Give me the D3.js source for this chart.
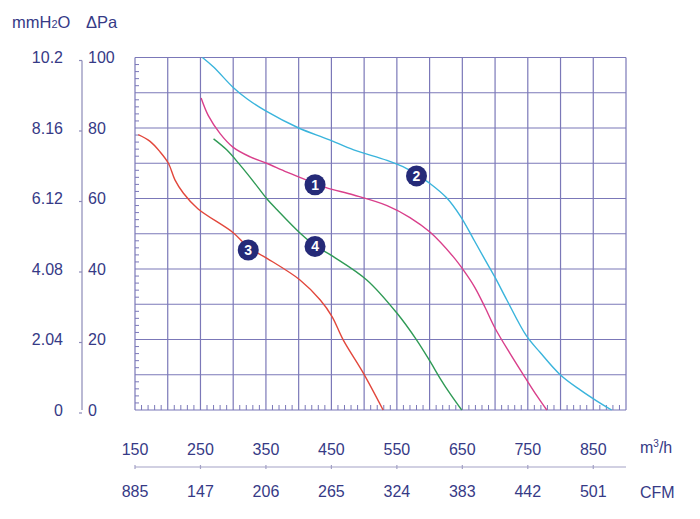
<!DOCTYPE html>
<html>
<head>
<meta charset="utf-8">
<script src="https://cdn.jsdelivr.net/npm/d3@7"></script>
<style>
  html, body { margin: 0; padding: 0; background: #ffffff; }
  svg { display: block; }
  text { font-family: "Liberation Sans", Arial, sans-serif; fill: #363a86; }
</style>
</head>
<body>
<svg id="chart" width="700" height="519"></svg>
<script>
// ---- data ----
const flowTicks = [150, 250, 350, 450, 550, 650, 750, 850];          // m3/h
const cfmLabels = ["885", "147", "206", "265", "324", "383", "442", "501"];
const paTicks = [0, 20, 40, 60, 80, 100];                            // Pa
const mmLabels = ["0", "2.04", "4.08", "6.12", "8.16", "10.2"];      // mmH2O

const curve1X = [251, 262, 280, 300, 326, 351, 382, 425, 443, 484, 535, 570, 601, 636, 652, 669, 685, 700, 723, 746, 764, 779];
const curve1Y = [88.5, 83.5, 78.4, 74.5, 71.8, 70.0, 67.5, 64.3, 63.0, 61.0, 58.0, 54.6, 50.4, 43.5, 39.6, 34.8, 29.0, 23.2, 16.0, 9.2, 4.0, 0];

const curve2X = [253, 270, 300, 321, 349, 400, 445, 484, 535, 565, 580, 601, 626, 647, 667, 685, 700, 718, 748, 769, 799, 830, 855, 878];
const curve2Y = [100, 97.3, 91.5, 88.3, 84.9, 80.0, 76.8, 73.8, 70.8, 68.5, 66.8, 64.2, 60.2, 55.0, 48.5, 42.5, 37.6, 31.2, 21.0, 16.3, 10.1, 5.7, 2.6, 0];

const curve3X = [155, 173, 188, 201, 211, 224, 246, 300, 323, 351, 402, 433, 451, 468, 499, 529];
const curve3Y = [78.1, 76.2, 73.3, 70.0, 65.3, 61.5, 57.1, 50.3, 46.2, 43.1, 36.9, 31.2, 26.5, 19.9, 10.4, 0];

const curve4X = [270, 290, 310, 331, 351, 367, 402, 425, 453, 504, 550, 580, 601, 616, 631, 649];
const curve4Y = [76.9, 73.8, 69.6, 64.8, 60.0, 56.8, 50.2, 46.6, 43.5, 36.9, 27.5, 19.9, 13.7, 9.0, 4.7, 0];

const badgeNames = ["1", "2", "3", "4"];
const badgeX = [425, 580, 323, 425];
const badgeY = [63.9, 66.4, 45.4, 46.4];

const curveColors = ["#d93f8b", "#3ab4dc", "#e2473c", "#2f9a55"];

// ---- layout ----
const svg = d3.select("#chart");
const x = d3.scaleLinear().domain([150, 900]).range([135, 626]);
const y = d3.scaleLinear().domain([0, 100]).range([410, 57.5]);
const gridColor = "#7b78b8";

// grid
const grid = svg.append("g");
grid.selectAll("line.v").data(d3.range(150, 901, 50)).join("line")
  .attr("x1", d => x(d)).attr("x2", d => x(d))
  .attr("y1", y(0)).attr("y2", y(100))
  .attr("stroke", gridColor).attr("stroke-width", 1.2);
grid.selectAll("line.h").data(d3.range(0, 101, 10)).join("line")
  .attr("y1", d => y(d)).attr("y2", d => y(d))
  .attr("x1", x(150)).attr("x2", x(900))
  .attr("stroke", gridColor).attr("stroke-width", 1.2);

// minor ticks inside plot (left edge every 2 Pa, bottom edge every 10 m3/h)
grid.selectAll("line.ml").data(d3.range(2, 100, 2).filter(d => d % 10 !== 0)).join("line")
  .attr("x1", x(150)).attr("x2", x(150) + 4)
  .attr("y1", d => y(d)).attr("y2", d => y(d))
  .attr("stroke", gridColor).attr("stroke-width", 1);
grid.selectAll("line.mb").data(d3.range(160, 900, 10).filter(d => d % 50 !== 0)).join("line")
  .attr("x1", d => x(d)).attr("x2", d => x(d))
  .attr("y1", y(0)).attr("y2", y(0) - 5)
  .attr("stroke", gridColor).attr("stroke-width", 1);

// curves
const line = d3.line().x(d => x(d[0])).y(d => y(d[1])).curve(d3.curveCatmullRom.alpha(0.5));
const curves = [[curve1X, curve1Y], [curve2X, curve2Y], [curve3X, curve3Y], [curve4X, curve4Y]];
curves.forEach((c, i) => {
  const pts = c[0].map((v, j) => [v, c[1][j]]);
  svg.append("path").datum(pts)
    .attr("d", line)
    .attr("fill", "none")
    .attr("stroke", curveColors[i])
    .attr("stroke-width", 1.4);
});

// badges
const badges = svg.append("g").selectAll("g").data(badgeNames).join("g")
  .attr("transform", (d, i) => `translate(${x(badgeX[i])},${y(badgeY[i])})`);
badges.append("circle").attr("r", 10.5).attr("fill", "#252a78");
badges.append("text").text(d => d)
  .attr("text-anchor", "middle").attr("dy", "0.36em")
  .style("fill", "#ffffff").style("font-size", "14px").style("font-weight", "bold");

// left double axis
const axisX = 82;
svg.append("line").attr("x1", axisX).attr("x2", axisX)
  .attr("y1", y(100) + 3).attr("y2", y(0))
  .attr("stroke", "#8c8ab8").attr("stroke-width", 1.2);
svg.append("g").selectAll("line").data(paTicks).join("line")
  .attr("x1", axisX - 3).attr("x2", axisX)
  .attr("y1", d => y(d) + 3).attr("y2", d => y(d) + 3)
  .attr("stroke", "#8c8ab8").attr("stroke-width", 1.2);
svg.append("g").selectAll("text").data(paTicks).join("text")
  .attr("x", 63).attr("y", d => y(d)).attr("dy", "0.36em")
  .attr("text-anchor", "end").style("font-size", "16px")
  .text((d, i) => mmLabels[i]);
svg.append("g").selectAll("text").data(paTicks).join("text")
  .attr("x", 88).attr("y", d => y(d)).attr("dy", "0.36em")
  .attr("text-anchor", "start").style("font-size", "16px")
  .text(d => d);

// header
const hdr = svg.append("text").attr("x", 12).attr("y", 28).style("font-size", "16.5px");
hdr.append("tspan").text("mmH");
hdr.append("tspan").text("2").style("font-size", "11px");
hdr.append("tspan").text("O");
svg.append("text").attr("x", 86).attr("y", 28).style("font-size", "16.5px").text("\u0394Pa");

// bottom dual scale
svg.append("line").attr("x1", x(150)).attr("x2", x(900))
  .attr("y1", 467).attr("y2", 467)
  .attr("stroke", "#a3a1c6").attr("stroke-width", 1.2);
svg.append("g").selectAll("line").data(flowTicks).join("line")
  .attr("x1", d => x(d)).attr("x2", d => x(d))
  .attr("y1", 465).attr("y2", 469)
  .attr("stroke", "#a3a1c6").attr("stroke-width", 1.2);
svg.append("g").selectAll("text").data(flowTicks).join("text")
  .attr("x", d => x(d)).attr("y", 455)
  .attr("text-anchor", "middle").style("font-size", "16px")
  .text(d => d);
svg.append("g").selectAll("text").data(flowTicks).join("text")
  .attr("x", d => x(d)).attr("y", 497)
  .attr("text-anchor", "middle").style("font-size", "16px")
  .text((d, i) => cfmLabels[i]);

const unit = svg.append("text").attr("x", 640).attr("y", 453).style("font-size", "16px");
unit.append("tspan").text("m");
unit.append("tspan").text("3").attr("dy", -6).style("font-size", "10px");
unit.append("tspan").text("/h").attr("dy", 6);
svg.append("text").attr("x", 640).attr("y", 498).style("font-size", "16px").text("CFM");
</script>
</body>
</html>
